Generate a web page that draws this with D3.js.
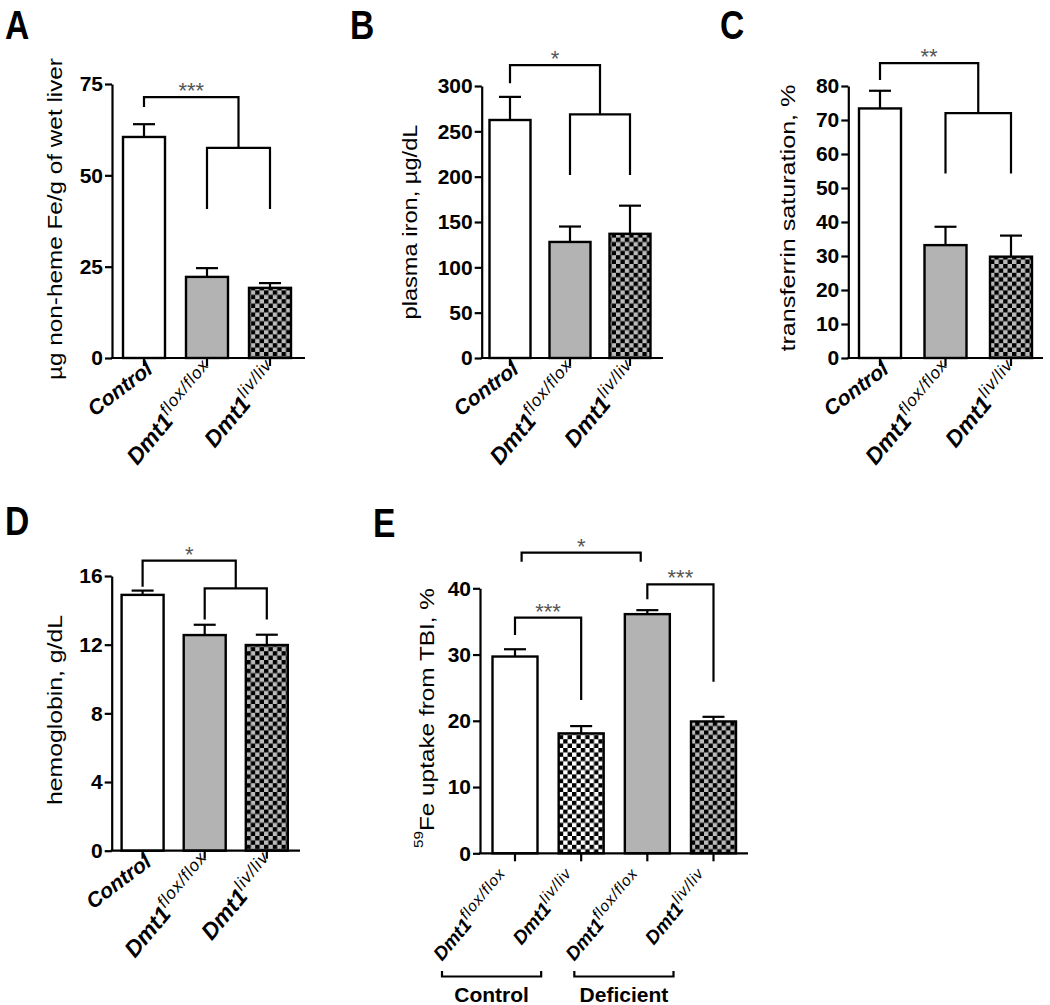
<!DOCTYPE html>
<html><head><meta charset="utf-8">
<script src="https://cdn.jsdelivr.net/npm/d3@7"></script>
<style>
body{margin:0;background:#fff}
text{font-family:"Liberation Sans",Arial,sans-serif}
</style>
</head><body>
<svg id="c" width="1050" height="1005"></svg>
<script>
// ---------------- DATA ----------------
const catsMain = [["Control",""],["Dmt1","flox/flox"],["Dmt1","liv/liv"]];
const catsE    = [["Dmt1","flox/flox"],["Dmt1","liv/liv"],["Dmt1","flox/flox"],["Dmt1","liv/liv"]];

const ticksA = [0,25,50,75];
const valsA  = [60.5,22.2,19.2];
const semA   = [3.5,2.4,1.3];

const ticksB = [0,50,100,150,200,250,300];
const valsB  = [262.5,128,137];
const semB   = [25.5,17,31];

const ticksC = [0,10,20,30,40,50,60,70,80];
const valsC  = [73.4,33.2,29.8];
const semC   = [5.2,5.4,6.2];

const ticksD = [0,4,8,12,16];
const valsD  = [14.9,12.56,11.98];
const semD   = [0.25,0.6,0.6];

const ticksE = [0,10,20,30,40];
const valsE  = [29.7,18.1,36.1,19.9];
const semE   = [1.1,1.1,0.6,0.7];

const groupsE = ["Control","Deficient"];

// significance brackets: from/to = category index, y = bracket level, d1/d2 = drop ends (data units)
const sigA = [{from:0,to:1.5,y:71.4,d1:68.7,d2:57.5,label:"***"},{from:1,to:2,y:57.5,d1:40.8,d2:40.8,label:""}];
const sigB = [{from:0,to:1.5,y:323,d1:303,d2:268.8,label:"*"},{from:1,to:2,y:268.8,d1:201.8,d2:201.8,label:""}];
const sigC = [{from:0,to:1.5,y:86.7,d1:81.8,d2:72,label:"**"},{from:1,to:2,y:72,d1:54.3,d2:54.3,label:""}];
const sigD = [{from:0,to:1.5,y:16.9,d1:15.38,d2:15.28,label:"*"},{from:1,to:2,y:15.28,d1:13.47,d2:13.47,label:""}];
const sigE = [{from:0.1,to:1.9,y:45.4,d1:44.0,d2:44.0,label:"*"},
              {from:0,to:1,y:35.57,d1:32.95,d2:23.14,label:"***"},
              {from:2,to:3,y:40.6,d1:38.34,d2:25.9,label:"***"}];

// ---------------- DRAW ----------------
const svg = d3.select("#c");
const defs = svg.append("defs");
function checker(id,bg,fg,c){
  const p = defs.append("pattern").attr("id",id).attr("patternUnits","userSpaceOnUse")
    .attr("width",2*c).attr("height",2*c);
  p.append("rect").attr("width",2*c).attr("height",2*c).attr("fill",bg);
  p.append("rect").attr("width",c).attr("height",c).attr("fill",fg);
  p.append("rect").attr("x",c).attr("y",c).attr("width",c).attr("height",c).attr("fill",fg);
}
checker("chkGray","#bababa","#000",4.4);
checker("chkWhite","#ffffff","#000",4.4);
const GRAY = "#b3b3b3";

function panel(cfg){
  const g = svg.append("g");
  const top = cfg.ticks[cfg.ticks.length-1];
  const y = d3.scaleLinear().domain([0,top]).range([cfg.y0,cfg.yTop]);
  const x = d3.scalePoint().domain(cfg.cats.map((d,i)=>i)).range([cfg.c0,cfg.c1]);
  const xi = i => cfg.c0 + i*x.step();

  // bars
  g.selectAll("rect.bar").data(cfg.vals).join("rect").attr("class","bar")
    .attr("x",(d,i)=>x(i)-cfg.bw/2).attr("y",d=>y(d))
    .attr("width",cfg.bw).attr("height",d=>y(0)-y(d))
    .attr("fill",(d,i)=>cfg.fills[i]).attr("stroke","#000").attr("stroke-width",2.4);

  // error bars (upper)
  const eb = g.selectAll("g.eb").data(cfg.vals).join("g").attr("class","eb");
  eb.append("line").attr("x1",(d,i)=>x(i)).attr("x2",(d,i)=>x(i))
    .attr("y1",d=>y(d)).attr("y2",(d,i)=>y(d+cfg.sem[i]))
    .attr("stroke","#000").attr("stroke-width",2.2);
  eb.append("line").attr("x1",(d,i)=>x(i)-11).attr("x2",(d,i)=>x(i)+11)
    .attr("y1",(d,i)=>y(d+cfg.sem[i])).attr("y2",(d,i)=>y(d+cfg.sem[i]))
    .attr("stroke","#000").attr("stroke-width",2.2);

  // y axis
  const ax = g.append("g").attr("transform",`translate(${cfg.axisX},0)`)
    .call(d3.axisLeft(y).tickValues(cfg.ticks).tickSize(7).tickSizeOuter(0).tickPadding(2).tickFormat(d3.format("d")));
  ax.select(".domain").attr("stroke","#000").attr("stroke-width",2.2);
  ax.selectAll(".tick line").attr("stroke","#000").attr("stroke-width",2.2);
  ax.selectAll(".tick text").attr("font-family","Liberation Sans, Arial, sans-serif")
    .attr("font-size",21).attr("font-weight","bold").attr("fill","#000");

  // x axis
  g.append("line").attr("x1",cfg.axisX-1).attr("x2",cfg.xEnd).attr("y1",cfg.y0).attr("y2",cfg.y0)
    .attr("stroke","#000").attr("stroke-width",2.2);
  g.selectAll("line.xt").data(cfg.cats).join("line").attr("class","xt")
    .attr("x1",(d,i)=>x(i)).attr("x2",(d,i)=>x(i)).attr("y1",cfg.y0).attr("y2",cfg.y0+8)
    .attr("stroke","#000").attr("stroke-width",2.2);

  // x labels (italic, rotated)
  const lab = g.selectAll("text.xl").data(cfg.cats).join("text").attr("class","xl")
    .attr("text-anchor","end").attr("font-style","italic")
    .attr("transform",(d,i)=> d[1]
      ? `translate(${x(i)+cfg.lx},${cfg.y0+cfg.ly}) rotate(-50)`
      : `translate(${x(i)+10},${cfg.y0+14}) rotate(-37)`);
  lab.append("tspan").attr("font-size",d=>d[1]?cfg.lfs:21).attr("font-weight","bold").text(d=>d[0]);
  lab.filter(d=>d[1]).append("tspan").attr("font-size",cfg.sfs).attr("letter-spacing",1)
    .attr("dy",-cfg.lfs*0.4).text(d=>d[1]);

  // significance brackets
  cfg.sig.forEach(s=>{
    const x1 = xi(s.from), x2 = xi(s.to);
    g.append("path").attr("fill","none").attr("stroke","#000").attr("stroke-width",2.2)
      .attr("d",`M${x1},${y(s.d1)}V${y(s.y)}H${x2}V${y(s.d2)}`);
    if(s.label) g.append("text").attr("x",(x1+x2)/2).attr("y",y(s.y)+1)
      .attr("text-anchor","middle").attr("font-size",22).attr("fill","#555").text(s.label);
  });

  // y title, fitted along its baseline to the measured length
  const t = g.append("text").attr("text-anchor","start")
    .attr("dy","0.35em").attr("font-size",24).attr("fill","#000");
  if(cfg.titleSup){
    t.append("tspan").attr("font-size",15).attr("dy","-0.3em").text(cfg.titleSup);
    t.append("tspan").attr("dy","0.55em").text(cfg.title);
  } else {
    t.text(cfg.title);
  }
  const w = t.node().getBBox().width;
  const sx = cfg.tlen / w;
  t.attr("transform",`translate(${cfg.tx},${cfg.ty + cfg.tlen/2}) rotate(-90) scale(${sx},0.82)`);

  // panel letter
  g.append("text").attr("transform",`translate(${cfg.px},${cfg.py}) scale(0.82,1)`)
    .attr("font-size",41).attr("font-weight","bold").attr("fill","#000").text(cfg.letter);
  return {g,x,y};
}

const fillsMain = ["#fff",GRAY,"url(#chkGray)"];

panel({cats:catsMain,ticks:ticksA,vals:valsA,sem:semA,sig:sigA,fills:fillsMain,
  axisX:112,y0:358,yTop:84,xEnd:305,c0:144,c1:270,bw:42,
  lx:10,ly:13,lfs:23,sfs:17,
  title:"µg non-heme Fe/g of wet liver",tx:55,ty:219,tlen:322,letter:"A",px:5,py:39});

panel({cats:catsMain,ticks:ticksB,vals:valsB,sem:semB,sig:sigB,fills:fillsMain,
  axisX:481.7,y0:358,yTop:86,xEnd:663,c0:510,c1:630,bw:41,
  lx:10,ly:13,lfs:23,sfs:17,
  title:"plasma iron, µg/dL",tx:410,ty:222,tlen:195,letter:"B",px:350,py:39});

panel({cats:catsMain,ticks:ticksC,vals:valsC,sem:semC,sig:sigC,fills:fillsMain,
  axisX:848.3,y0:358,yTop:86,xEnd:1043,c0:880,c1:1011,bw:42,
  lx:10,ly:13,lfs:23,sfs:17,
  title:"transferrin saturation, %",tx:788,ty:218,tlen:267,letter:"C",px:720,py:39});

panel({cats:catsMain,ticks:ticksD,vals:valsD,sem:semD,sig:sigD,fills:fillsMain,
  axisX:111.7,y0:850.7,yTop:576,xEnd:300,c0:142.6,c1:266.8,bw:42,
  lx:10,ly:13,lfs:23,sfs:17,
  title:"hemoglobin, g/dL",tx:55,ty:710,tlen:190,letter:"D",px:5,py:535});

const pE = panel({cats:catsE,ticks:ticksE,vals:valsE,sem:semE,sig:sigE,
  fills:["#fff","url(#chkWhite)",GRAY,"url(#chkGray)"],
  axisX:480,y0:853.3,yTop:588.3,xEnd:748,c0:515,c1:713.5,bw:45,
  lx:-3,ly:25,lfs:19,sfs:15.5,
  title:"Fe uptake from TBI, %",titleSup:"59",tx:426.7,ty:718,tlen:260,letter:"E",px:373,py:537});

// group brackets under panel E
const grpSpan = [[0,1],[2,3]];
const gE = pE.g;
grpSpan.forEach((sp,k)=>{
  const xa = pE.x(sp[0])-73, xb = pE.x(sp[1])-40;
  gE.append("path").attr("fill","none").attr("stroke","#000").attr("stroke-width",2.2)
    .attr("d",`M${xa},971V976.5H${xb}V971`);
  gE.append("text").attr("x",(xa+xb)/2).attr("y",1002).attr("text-anchor","middle")
    .attr("font-size",21).attr("font-weight","bold").text(groupsE[k]);
});
</script>
</body></html>
